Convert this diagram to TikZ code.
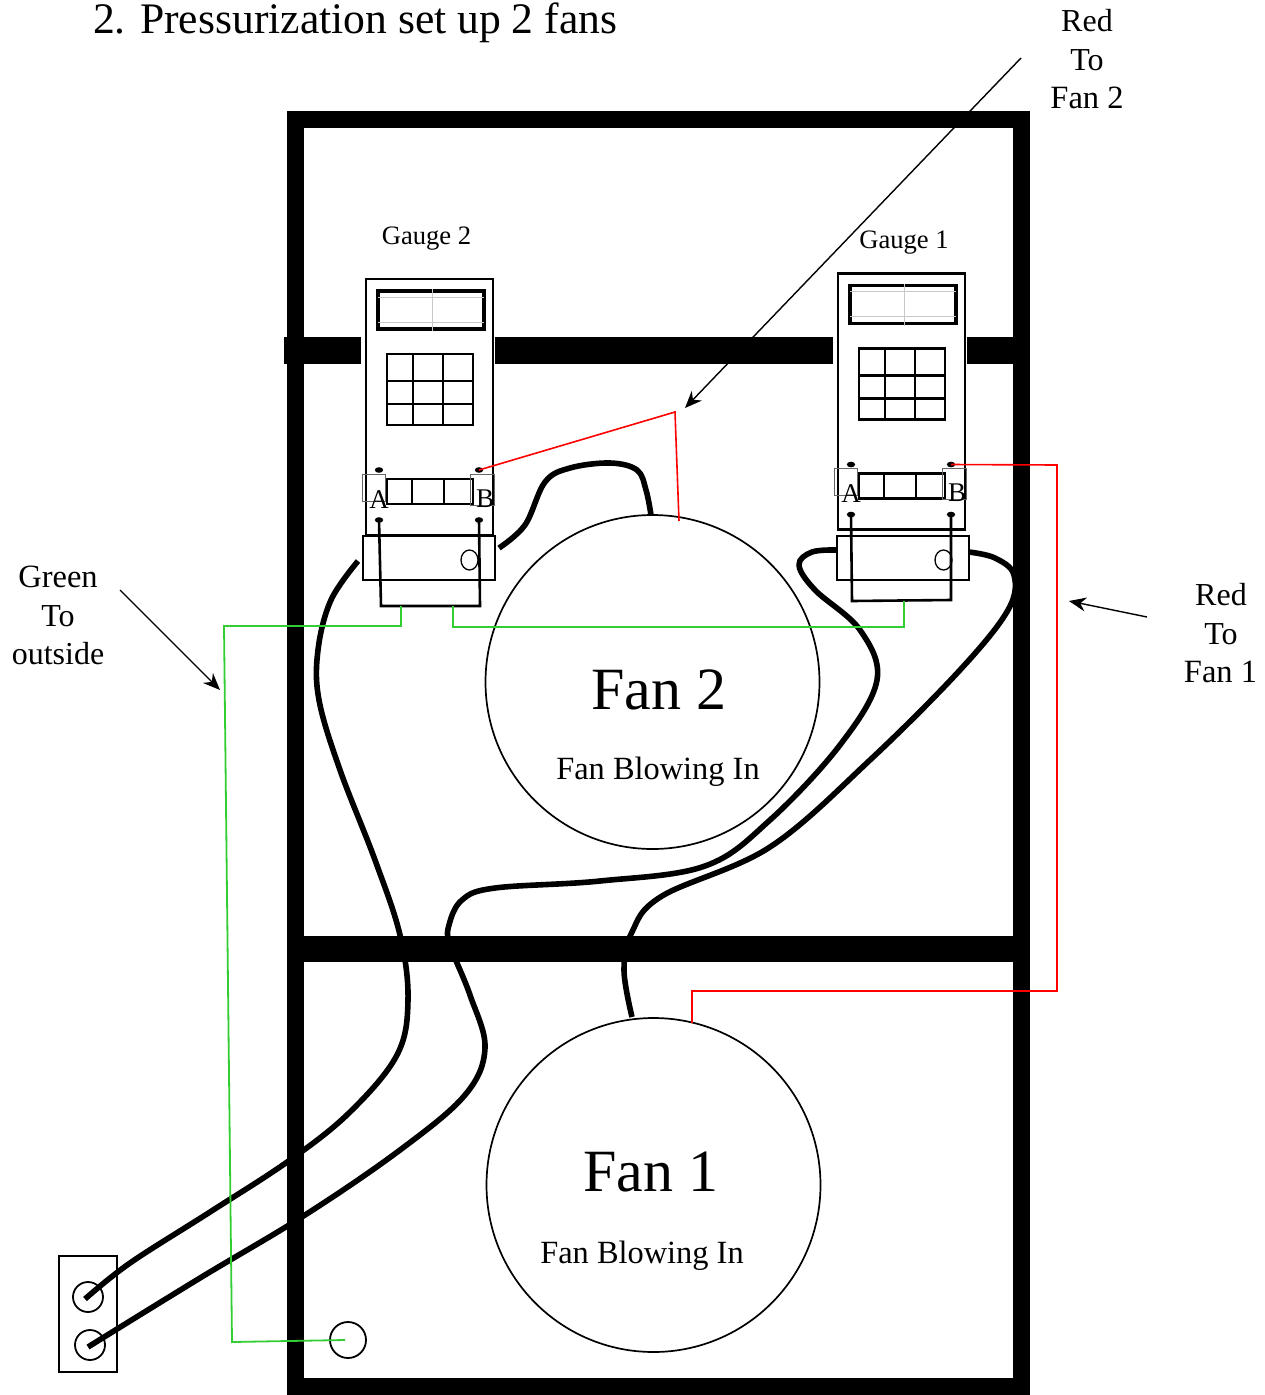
\documentclass[tikz,border=0pt]{standalone}
\usepackage{fontspec}
\setmainfont{Liberation Serif}
\usetikzlibrary{arrows.meta,shapes.geometric}
\newcommand{\txt}[1]{\fontsize{#1}{#1}\selectfont}
\tikzset{
  x=1pt,y=-1pt,
  wallband/.style={fill=black,draw=none},
  cable/.style={line width=5.6pt,line cap=butt,line join=round},
  thinbox/.style={draw=black,line width=2.4pt,fill=white},
  gridline/.style={line width=2.6pt},
  greybox/.style={draw=black!60,line width=0.8pt},
  greyline/.style={draw=black!22,line width=1pt},
  hose/.style={line width=2.6pt,line join=miter},
  greenwire/.style={draw={rgb,255:red,50;green,205;blue,50},line width=1.8pt},
  redwire/.style={draw=red,line width=1.6pt},
  pointer/.style={line width=1.4pt,-{Stealth[length=17pt,width=14pt]}},
  fan/.style={circle,draw=black,line width=1.7pt,inner sep=0pt,minimum size=334pt},
  port/.style={circle,draw=black,line width=1.8pt,inner sep=0pt,minimum size=30pt},
  lbl/.style={anchor=base,inner sep=0pt,outer sep=0pt},
  gauge/.pic={
    \draw[thinbox] (366,279) rectangle (493,535);
    \draw[line width=3.4pt] (378,291) rectangle (484,329);
    \draw[greyline] (378,297) -- (484,297) (378,322) -- (484,322) (432,289) -- (432,331);
    \draw[gridline] (387,354) rectangle (473,425)
      (413,354) -- (413,425) (443,354) -- (443,425)
      (387,381) -- (473,381) (387,404) -- (473,404);
    \draw[gridline] (387,479) rectangle (473,504)
      (412,479) -- (412,504) (444,479) -- (444,504);
    \draw[greybox] (362,474) rectangle (385,501) (470,474) rectangle (494,505);
    \fill (379,470) ellipse [x radius=4.2,y radius=2.8];
    \fill (479,470) ellipse [x radius=4.2,y radius=2.8];
    \fill (379,520) ellipse [x radius=4.2,y radius=2.8];
    \fill (479,520) ellipse [x radius=4.2,y radius=2.8];
    \coordinate (-pinB) at (479,470);
    \coordinate (-lowA) at (379,520);
    \coordinate (-lowB) at (479,520);
    \node[lbl] (-la) at (379,508) {\txt{27}A};
    \node[lbl] (-lb) at (485,507) {\txt{27}B};
  }
}
\begin{document}
\begin{tikzpicture}
\useasboundingbox (0,0) rectangle (1265,1395);
% building
\fill[wallband] (287,111) rectangle (1030,128);
\fill[wallband] (287,1378) rectangle (1030,1395);
\fill[wallband] (287,111) rectangle (304,1395);
\fill[wallband] (1013,111) rectangle (1030,1395);
\fill[wallband] (287,936) rectangle (1030,962);
\fill[wallband] (284,337) rectangle (361,364);
\fill[wallband] (495,337) rectangle (833,364);
\fill[wallband] (967,337) rectangle (1013,364);
% fans
\node[fan] (fan2) at (652.5,682) {};
\node[fan] (fan1) at (653.5,1185) {};
% gauges
\pic (g2) at (0,0) {gauge};
\pic (g1) at (472,-5.5) {gauge};
% lower boxes
\node[draw=black,line width=2.4pt,inner sep=0pt,minimum width=132pt,minimum height=44pt] (box2) at (429,558) {};
\node[draw=black,line width=2.4pt,inner sep=0pt,minimum width=132pt,minimum height=44pt] (box1) at (903,558) {};
\node[ellipse,draw=black,line width=1.3pt,inner sep=0pt,minimum width=17pt,minimum height=20pt] (o2) at (469.5,560) {};
\node[ellipse,draw=black,line width=1.3pt,inner sep=0pt,minimum width=17pt,minimum height=20pt] (o1) at (943.5,560) {};
% hoses
\coordinate (h2a) at (381,606); \coordinate (h2b) at (480,606);
\coordinate (h1a) at (852,601); \coordinate (h1b) at (951,600);
\draw[hose] (g2-lowA) -- (h2a) -- (h2b) -- (g2-lowB);
\draw[hose] (g1-lowA) -- (h1a) -- (h1b) -- (g1-lowB);
% cables
\draw[cable] plot[smooth,tension=0.6] coordinates {(358,561) (331,600) (318,650) (319,700) (340,770) (375,860) (400,935) (408,1000) (397,1055) (350,1112) (290,1160) (210,1212) (130,1263) (85,1299)};
\draw[cable] plot[smooth,tension=0.6] coordinates {(88,1347) (200,1278) (305,1215) (400,1150) (465,1095) (485,1048) (470,995) (450,945) (449,925) (462,900) (495,888) (600,881) (705,866) (770,820) (840,745) (877,680) (860,630) (815,590) (799,565) (812,552) (837,550)};
\draw[cable] plot[smooth,tension=0.6] coordinates {(632,1017) (624,970) (632,932) (662,896) (770,847) (870,760) (960,670) (1008,610) (1014,575) (995,558) (969,552)};
\draw[cable] plot[smooth,tension=0.6] coordinates {(499,548) (525,525) (545,482) (570,468) (610,463) (637,470) (646,490) (651,515)};
% outlet
\node[draw=black,line width=2pt,inner sep=0pt,minimum width=58pt,minimum height=116pt] (outlet) at (88,1314) {};
\node[port] (p1) at (88,1297) {};
\node[port] (p2) at (90,1345) {};
\node[circle,draw=black,line width=1.8pt,inner sep=0pt,minimum size=36pt] (outside) at (348,1340) {};
% tubes
\coordinate (gA) at (401,606); \coordinate (gB) at (453,606); \coordinate (gC) at (904,601);
\coordinate (gEnd) at (345,1340);
\draw[greenwire] (gA) -- (401,626) -- (224,626) -- (232,1342) -- (gEnd);
\draw[greenwire] (gB) -- (453,627) -- (904,627) -- (gC);
\coordinate (r2) at (679,521); \coordinate (r1) at (692,1023);
\draw[redwire] (g2-pinB) -- (675,412) -- (r2);
\draw[redwire] (g1-pinB) -- (1057,465) -- (1057,991) -- (692,991) -- (r1);
% pointers
\coordinate (a1s) at (1021,58); \coordinate (a1e) at (685,408);
\coordinate (a2s) at (1147,617); \coordinate (a2e) at (1069,601);
\coordinate (a3s) at (120,590); \coordinate (a3e) at (220,690);
\draw[pointer] (a1s) -- (a1e);
\draw[pointer] (a2s) -- (a2e);
\draw[pointer] (a3s) -- (a3e);
% texts
\node[lbl,anchor=base west] (title) at (93,33) {\txt{43.6}2. Pressurization set up 2 fans};
\node[lbl] (tg2) at (426.5,244) {\txt{26.6}Gauge 2};
\node[lbl] (tg1) at (904,248) {\txt{26.6}Gauge 1};
\node[lbl] (tf2) at (658.5,709) {\txt{60}Fan 2};
\node[lbl] (tf1) at (650.5,1191) {\txt{60}Fan 1};
\node[lbl] (tb2) at (658,779) {\txt{32.4}Fan Blowing In};
\node[lbl] (tb1) at (642,1263) {\txt{32.4}Fan Blowing In};
\node[lbl] (r2a) at (1087,31) {\txt{32}Red};
\node[lbl] (r2b) at (1087,70) {\txt{32}To};
\node[lbl] (r2c) at (1087,108) {\txt{32.5}Fan 2};
\node[lbl] (r1a) at (1221,605) {\txt{32}Red};
\node[lbl] (r1b) at (1221,644) {\txt{32}To};
\node[lbl] (r1c) at (1220.5,682) {\txt{32.5}Fan 1};
\node[lbl] (ga) at (58,587) {\txt{32.5}Green};
\node[lbl] (gb) at (58,626) {\txt{32}To};
\node[lbl] (gc) at (58,664) {\txt{32}outside};
\end{tikzpicture}
\end{document}
